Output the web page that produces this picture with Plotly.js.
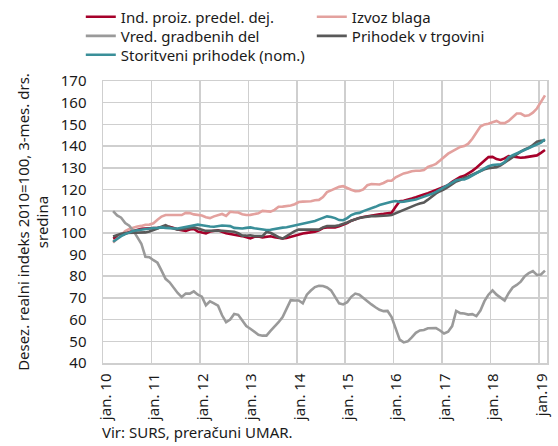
<!DOCTYPE html>
<html>
<head>
<meta charset="utf-8">
<script src="https://cdn.plot.ly/plotly-3.0.1.min.js"></script>
<style>html,body{margin:0;padding:0;background:#fff;}#chart{width:558px;height:446px;}</style>
</head>
<body>
<div id="chart"></div>
<script>
// Monthly series, March 2010 .. February 2019 (3-month moving averages)
const startYear = 2010, startMonth = 3; // first data month
const tickLabels = ["jan. 10","jan. 11","jan. 12","jan. 13","jan. 14","jan. 15","jan. 16","jan. 17","jan. 18","jan.19"];
const seriesNames = ["Ind. proiz. predel. dej.","Izvoz blaga","Vred. gradbenih del","Prihodek v trgovini","Storitveni prihodek (nom.)"];

const indProiz = [97.4,98.2,98.9,99.8,100.4,100.9,101.4,101.9,102,102,
  102,102.3,102.5,102.6,102.8,102.2,101.5,101.2,100.9,101.5,101.8,100.6,
  100.2,99.7,100.6,101,101.2,100.5,99.8,99.5,99,98.8,98.5,98,
  97.4,98.2,98.3,97.9,98.3,98.4,98,97.8,97.4,97.6,98.1,98.8,
  99.4,99.7,100,100.2,100.5,101.2,102.2,102.5,102.5,102.5,103,103.6,
  104.5,105.6,106.3,106.9,107.3,107.7,107.9,108.2,108.6,108.8,109,109.3,
  112,114.6,114.8,115.2,115.8,116.4,117.2,117.7,118.3,119,119.7,120.3,
  121.2,122,123.5,124.8,125.8,126.3,127.3,128.6,130,131.5,133.4,134.9,
  135,134,133.6,134.3,135.4,135.2,134.8,134.6,134.8,135.1,135.1,135.7,
  136.9,138.2];

const izvozBlaga = [95.5,97.4,99,100.8,101.8,102.4,102.9,103.2,103.7,103.8,
  104.4,106,107.5,108.2,108.2,108,107.9,108.2,109.2,109.1,108.5,108.3,
  108,107.2,106.8,107.6,108.2,108.7,107.8,109.7,109.5,109.4,108.6,108.2,
  108.3,108.6,109,110.1,109.8,109.8,110.6,112,112.1,112.2,112.6,113.2,
  114.2,114.4,114.4,114.6,115,115.2,116.5,118.8,119.6,120.5,121.2,121.5,
  120.6,119.9,119.2,119.3,120,122,122.5,122.5,122.3,123,124,124,
  125.6,126.5,127.4,127.8,128.4,128.6,128.6,129,130.4,131,131.8,133.3,
  135,136.5,137.6,138.7,139.6,140,141.1,143.4,146.2,149,150,150.3,
  151,151.6,150.6,150.6,151.6,153.2,155,155,153.9,154.2,155.4,157.3,
  160.3,163.4];

const vredGradbenih = [110,108,107,104.5,103.3,101,98,95,89,88.8,
  87.4,86.2,82.6,78.8,77.2,74.5,72.3,70.4,72,72,73,71.5,
  70.6,66.6,68.4,67.5,66.4,62,58.8,60,62.6,62.2,59.3,57,
  55.8,54.5,53,52.6,52.6,54.8,56.7,58.8,61.2,65,69,68.8,
  68.8,67.5,71.5,73.4,75,75.6,75.5,74.8,73.5,70.5,67.5,67,
  68,70.5,72,71.5,69.9,68.4,67,65.7,64.5,63.9,64,61.2,
  56,50.8,49.5,50,51.8,53.9,55,55.2,56,56.1,56.1,55,
  53.6,54.4,57,64,63,62.8,62.3,62.5,61.6,64.2,68.5,71.5,
  73.5,71.5,70,68.8,72.2,74.8,76,77.5,80,81.5,82.4,80.6,
  80.8,82.6];

const prihodekTrg = [98.3,99,99.6,99.9,100,100,100,100,100.2,100.6,
  101.2,102,102.8,103.5,102.6,102,101.5,101.7,102,102.2,102.5,102,
  101.3,100.9,101,101.2,101.1,101,100.9,100.7,100.5,99.8,98.7,98.7,
  98.9,98.5,98.5,98.5,100.4,100,99,98,97.4,98.5,99.8,100.8,
  101.5,101.5,101.5,101.4,101.2,101.5,102.5,103.1,103.1,103.1,103.5,104,
  104.8,105.6,106.3,106.8,107.2,107.5,107.7,107.7,107.7,107.9,108,108.2,
  109,109.9,110.5,111.3,112.2,112.9,113.5,114,115.3,116.8,118.2,119.2,
  120,121.2,122.5,123.7,124.3,125.4,126,126.8,127.9,128.5,129.3,129.8,
  130,130.3,131.1,132.4,133.8,135,136.2,137.4,138.5,139.2,140.5,142,
  142.4,142.6];

const storitveni = [95.9,97.3,98.5,99.4,100.2,100.9,101.2,101.5,101.7,102,
  102.2,102.3,102.5,102.3,102,102,102,102.4,102.8,103.2,103.6,103.8,
  103.5,103.1,102.9,102.8,103.1,103.4,103.3,103.1,102.3,102,102,102.3,
  102.5,102.1,101.8,101.5,101.3,101.4,101.8,102.2,102.4,102.6,103,103.4,
  103.8,104.2,104.4,105,105.5,106.2,107,107.6,107.3,106.8,105.9,105.8,
  106.8,108.2,108.9,109.2,110,110.6,111.4,112,112.8,113.4,113.8,114.3,
  114.7,114.3,114.4,114.7,115,115.4,116,116.6,117.2,118,118.9,120,
  120.8,122.3,123.3,124.2,124.6,124.6,125.4,126.4,127.7,128.5,129.7,130.7,
  131.3,131.5,131.6,132.6,134.8,135.8,136.6,137.5,138.4,139.1,140.1,140.9,
  141.6,143.1];

const colors = ["#A6002A","#E3A19E","#9A9A9A","#595959","#3A8F99"];
const series = [indProiz, izvozBlaga, vredGradbenih, prihodekTrg, storitveni];
const legendRow = ["legend","legend","legend2","legend2","legend3"];

// month index: 0 = January 2010
const monthIdx = indProiz.map((_, k) => (startYear - 2010) * 12 + (startMonth - 1) + k);
const tickPos = tickLabels.map((_, k) => k * 12 - 0.5);

const font = "'Noto Sans', 'Open Sans', sans-serif";
const traces = series.map((ys, k) => ({
  type: "scatter", mode: "lines", name: seriesNames[k],
  x: monthIdx, y: ys, legend: legendRow[k],
  line: {color: colors[k], width: 2.6}
}));

function legendAt(yPaper) {
  return {
    orientation: "h", xref: "paper", yref: "paper",
    x: -0.05, y: yPaper, xanchor: "left", yanchor: "middle",
    entrywidth: 186, traceorder: "normal",
    font: {family: font, size: 15, color: "#1a1a1a"},
    bgcolor: "rgba(0,0,0,0)", itemwidth: 30
  };
}

const gridCol = "#CFCFCF";
const layout = {
  width: 558, height: 446,
  margin: {l: 103, r: 11, t: 81, b: 83, pad: 0, autoexpand: false},
  paper_bgcolor: "#fff", plot_bgcolor: "#fff",
  font: {family: font, size: 15, color: "#1a1a1a"},
  showlegend: true,
  legend: legendAt(1.227),
  legend2: legendAt(1.159),
  legend3: legendAt(1.092),
  xaxis: {
    range: [-0.5, 109.5], tickmode: "array", tickvals: tickPos, ticktext: tickLabels,
    tickangle: -90, showgrid: true, gridcolor: gridCol, gridwidth: 1.5,
    showline: true, linecolor: gridCol, linewidth: 1.5, mirror: true,
    zeroline: false, ticks: "", ticklabelshift: 3, ticklabelstandoff: 3,
    tickfont: {family: font, size: 15, color: "#1a1a1a"}, fixedrange: true
  },
  yaxis: {
    range: [40, 170], dtick: 10, tick0: 40, showgrid: true, gridcolor: gridCol, gridwidth: 1.5,
    showline: true, linecolor: gridCol, linewidth: 1.5, mirror: true,
    zeroline: false, ticks: "", ticklabelstandoff: 12,
    tickfont: {family: font, size: 15, color: "#1a1a1a"},
    title: {text: "Desez. realni indeks 2010=100, 3-mes. drs.<br>sredina", standoff: 8,
            font: {family: font, size: 15, color: "#1a1a1a"}},
    fixedrange: true
  },
  annotations: [{
    xref: "paper", yref: "paper", x: -0.0075, y: -0.243, xanchor: "left", yanchor: "middle",
    text: "Vir: SURS, preračuni UMAR.", showarrow: false,
    font: {family: font, size: 15, color: "#1a1a1a"}
  }]
};

Plotly.newPlot("chart", traces, layout, {displayModeBar: false, staticPlot: true});
</script>
</body>
</html>
